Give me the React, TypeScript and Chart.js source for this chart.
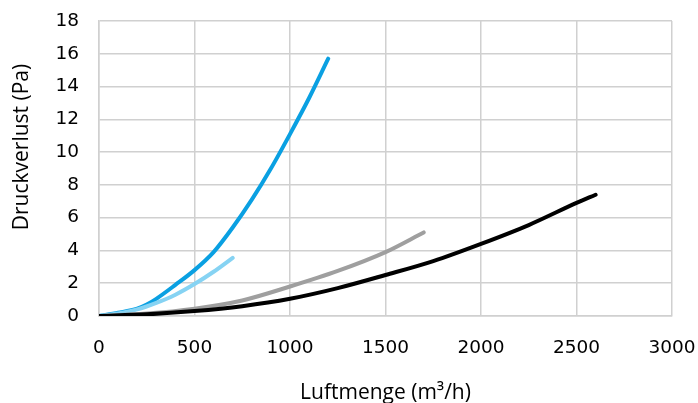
import React, { useEffect, useRef } from "react";
import { Chart, registerables } from "chart.js";
Chart.register(...registerables);

const xTitle = "Luftmenge (m³/h)";
const yTitle = "Druckverlust (Pa)";

const blueX = [0, 100, 200, 250, 300, 400, 500, 600, 700, 800, 900, 1000, 1100, 1200];
const blueY = [0, 0.2, 0.45, 0.7, 1.05, 1.9, 2.8, 3.9, 5.4, 7.1, 9.0, 11.1, 13.3, 15.7];
const lightX = [0, 100, 200, 300, 400, 500, 600, 700];
const lightY = [0, 0.15, 0.4, 0.8, 1.3, 1.95, 2.7, 3.55];
const grayX = [0, 250, 500, 750, 1000, 1250, 1500, 1700];
const grayY = [0, 0.15, 0.45, 0.95, 1.8, 2.75, 3.9, 5.1];
const blackX = [0, 250, 500, 750, 1000, 1250, 1500, 1750, 2000, 2250, 2500, 2600];
const blackY = [0, 0.1, 0.3, 0.6, 1.05, 1.7, 2.5, 3.35, 4.4, 5.55, 6.9, 7.4];

const pts = (xs: number[], ys: number[]) => xs.map((x, i) => ({ x, y: ys[i] }));

const titlePlugin = {
  id: "axisTitles",
  afterDraw(chart: any) {
    const { ctx, chartArea } = chart;
    ctx.save();
    ctx.fillStyle = "#000";
    ctx.font = "21px 'Open Sans'";
    ctx.textAlign = "center";
    ctx.textBaseline = "alphabetic";
    ctx.fillText(xTitle, (chartArea.left + chartArea.right) / 2, 399);
    ctx.translate(28, 147);
    ctx.rotate(-Math.PI / 2);
    ctx.fillText(yTitle, 0, 0);
    ctx.restore();
  },
};

export default function App() {
  const ref = useRef<HTMLCanvasElement | null>(null);
  useEffect(() => {
    const tickFont = { family: "DejaVu Sans", size: 18.5 };
    const mk = (data: any, color: string) => ({
      data,
      borderColor: color,
      backgroundColor: color,
      borderWidth: 4,
      pointRadius: 0,
      tension: 0.4,
      cubicInterpolationMode: "monotone" as const,
      borderCapStyle: "round" as const,
      fill: false,
      showLine: true,
    });
    const chart = new Chart(ref.current!, {
      type: "scatter",
      data: {
        datasets: [
          mk(pts(blackX, blackY), "#000000"),
          mk(pts(grayX, grayY), "#9f9f9f"),
          mk(pts(lightX, lightY), "#86d3f3"),
          mk(pts(blueX, blueY), "#0aa0e2"),
        ],
      },
      plugins: [titlePlugin],
      options: {
        animation: false,
        responsive: false,
        layout: { padding: { left: 0, right: 26, top: 21, bottom: 0 } },
        plugins: { legend: { display: false }, tooltip: { enabled: false } },
        scales: {
          x: {
            type: "linear",
            min: 0,
            max: 3000,
            ticks: { stepSize: 500, color: "#000", font: tickFont, padding: 21, callback: (v: any) => String(v) },
            grid: { color: "#d0d0d0", lineWidth: 1.5, drawTicks: false },
            border: { color: "#d0d0d0", width: 1.5 },
            afterFit: (s: any) => { s.height = 87; s.paddingLeft = 0; s.paddingRight = 0; },
          },
          y: {
            type: "linear",
            min: 0,
            max: 18,
            ticks: { stepSize: 2, color: "#000", font: tickFont, padding: 20 },
            grid: { color: "#d0d0d0", lineWidth: 1.5, drawTicks: false },
            border: { color: "#d0d0d0", width: 1.5 },
            afterFit: (s: any) => { s.width = 99; s.paddingTop = 0; s.paddingBottom = 0; },
          },
        },
      },
    });
    return () => chart.destroy();
  }, []);
  return (
    <div style={{ position: "fixed", left: 0, top: 0, width: 698, height: 403, background: "#fff" }}>
      <canvas ref={ref} width={698} height={403} style={{ width: 698, height: 403 }} />
    </div>
  );
}
